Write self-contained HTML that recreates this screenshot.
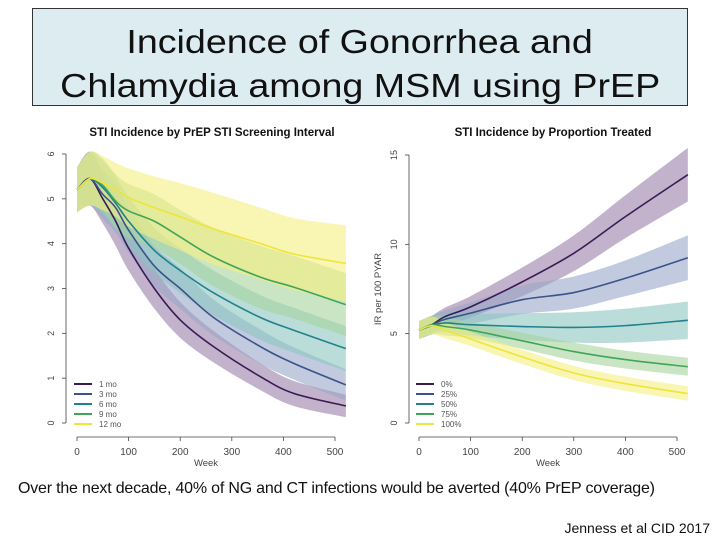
<!DOCTYPE html>
<html><head><meta charset="utf-8">
<style>
body{margin:0;width:720px;height:540px;background:#fff;overflow:hidden;position:relative;font-family:"Liberation Sans",sans-serif}
#box{position:absolute;left:32px;top:8px;width:656px;height:98px;background:#dcecf0;border:1px solid #333;box-sizing:border-box}
#title{position:absolute;left:0;top:20px;width:720px;text-align:center;font-size:33px;line-height:44px;color:#111}
#title span{display:inline-block;transform:scaleX(1.14);white-space:nowrap}
#cap{position:absolute;left:18px;top:480px;font-size:16px;color:#111;white-space:nowrap;letter-spacing:-0.2px}
#credit{position:absolute;right:10px;top:520px;font-size:14px;color:#111}
svg{position:absolute;left:0;top:0}
</style></head><body>
<div id="box"></div>
<div id="title"><span>Incidence of Gonorrhea and</span><br><span>Chlamydia among MSM using PrEP</span></div>
<svg id="chart" width="720" height="540"></svg>
<div id="cap">Over the next decade, 40% of NG and CT infections would be averted (40% PrEP coverage)</div>
<div id="credit">Jenness et al CID 2017</div>
<script>
const leftWeeks=[0,25,50,75,100,150,200,265,356,420,521];
const leftNames=["1 mo","3 mo","6 mo","9 mo","12 mo"];
const left1=[5.2,5.45,5.0,4.5,3.9,3.0,2.3,1.7,1.03,0.66,0.38];
const left3=[5.2,5.45,5.1,4.8,4.3,3.5,3.0,2.35,1.7,1.33,0.85];
const left6=[5.2,5.45,5.25,4.9,4.5,3.85,3.4,2.9,2.35,2.07,1.66];
const left9=[5.2,5.45,5.3,4.95,4.73,4.5,4.15,3.7,3.25,3.03,2.64];
const left12=[5.2,5.45,5.35,5.2,5.03,4.8,4.6,4.33,4.0,3.77,3.56];
const leftSpread1=[0.5,0.6,0.55,0.55,0.5,0.45,0.4,0.35,0.3,0.28,0.25];
const leftSpread3=[0.5,0.6,0.55,0.55,0.5,0.45,0.45,0.4,0.38,0.36,0.35];
const leftSpread6=[0.5,0.6,0.6,0.6,0.55,0.5,0.5,0.5,0.5,0.5,0.5];
const leftSpread9=[0.5,0.6,0.6,0.6,0.6,0.6,0.6,0.65,0.7,0.7,0.7];
const leftSpread12=[0.5,0.6,0.6,0.6,0.65,0.7,0.75,0.8,0.8,0.8,0.85];
const leftTicksY=[0,1,2,3,4,5,6];
const rightWeeks=[0,25,50,100,200,300,400,521];
const rightNames=["0%","25%","50%","75%","100%"];
const right0=[5.2,5.5,5.95,6.5,7.9,9.5,11.55,13.9];
const right25=[5.2,5.5,5.8,6.15,6.9,7.3,8.1,9.25];
const right50=[5.2,5.45,5.6,5.5,5.4,5.35,5.45,5.75];
const right75=[5.2,5.5,5.4,5.2,4.6,4.0,3.55,3.15];
const right100=[5.2,5.45,5.2,4.7,3.7,2.8,2.2,1.65];
const rightSpread0=[0.5,0.5,0.5,0.6,0.8,1.0,1.2,1.5];
const rightSpread25=[0.5,0.5,0.5,0.6,0.8,0.9,1.0,1.25];
const rightSpread50=[0.5,0.5,0.5,0.6,0.75,0.85,0.95,1.05];
const rightSpread75=[0.5,0.5,0.5,0.45,0.45,0.5,0.5,0.5];
const rightSpread100=[0.5,0.5,0.45,0.4,0.4,0.4,0.4,0.4];
const rightTicksY=[0,5,10,15];
const ticksX=[0,100,200,300,400,500];

const lineCols=["#3a1a55","#3b528b","#21818c","#3fa55a","#eee53a"];
const bandCols=["#9a7fa8","#98a6c8","#8cc6c2","#a6d49c","#f5ee80"];
const NS="http://www.w3.org/2000/svg";
const svg=document.getElementById('chart');
function mk(t,a,p){const e=document.createElementNS(NS,t);for(const k in a)e.setAttribute(k,a[k]);(p||svg).appendChild(e);return e;}
function smooth(pts,move){
  let d=(move?'M':'L')+pts[0][0]+','+pts[0][1];
  for(let i=0;i<pts.length-1;i++){
    const p0=pts[Math.max(0,i-1)],p1=pts[i],p2=pts[i+1],p3=pts[Math.min(pts.length-1,i+2)];
    const c1x=p1[0]+(p2[0]-p0[0])/6,c1y=p1[1]+(p2[1]-p0[1])/6;
    const c2x=p2[0]-(p3[0]-p1[0])/6,c2y=p2[1]-(p3[1]-p1[1])/6;
    d+='C'+c1x+','+c1y+' '+c2x+','+c2y+' '+p2[0]+','+p2[1];
  }
  return d;
}

function panel(cfg){
  const xs=w=>cfg.x0+(w/500)*(cfg.x500-cfg.x0);
  const ys=v=>cfg.yBot-(v/cfg.yMax)*(cfg.yBot-cfg.yTop);
  const g=mk('g',{});
  
  
  cfg.series.forEach((s,i)=>{
    const up=s.map((v,j)=>[xs(cfg.weeks[j]),ys(v+cfg.spreads[i][j])]);
    const lo=s.map((v,j)=>[xs(cfg.weeks[j]),ys(Math.max(0,v-cfg.spreads[i][j]))]).reverse();
    const p=mk('path',{d:smooth(up,true)+smooth(lo,false)+'Z',fill:bandCols[i],'fill-opacity':0.6,stroke:'none'},g);
    
    
  });
  cfg.series.forEach((s,i)=>{
    const pts=s.map((v,j)=>[xs(cfg.weeks[j]),ys(v)]);
    const l=mk('path',{d:smooth(pts,true),fill:'none',stroke:lineCols[i],'stroke-width':1.6},g);
    
    
  });
  mk('line',{x1:cfg.ax,x2:cfg.ax,y1:ys(0),y2:ys(cfg.yMax),stroke:'#444','stroke-width':0.8},g);
  cfg.ticksY.forEach(t=>{
    mk('line',{x1:cfg.ax-4,x2:cfg.ax,y1:ys(t),y2:ys(t),stroke:'#444','stroke-width':0.8},g);
    const tx=mk('text',{x:cfg.ax-12,y:ys(t),'font-size':9,fill:'#444','text-anchor':'middle',transform:`rotate(-90 ${cfg.ax-12} ${ys(t)})`},g);
    tx.textContent=t;
  });
  const axY=437;
  mk('line',{x1:xs(0),x2:xs(500),y1:axY,y2:axY,stroke:'#444','stroke-width':0.8},g);
  ticksX.forEach(t=>{
    mk('line',{x1:xs(t),x2:xs(t),y1:axY,y2:axY+4,stroke:'#444','stroke-width':0.8},g);
    const tx=mk('text',{x:xs(t),y:axY+18,'font-size':10,fill:'#444','text-anchor':'middle'},g);
    tx.textContent=t;
  });
  const wl=mk('text',{x:(xs(0)+xs(500))/2,y:axY+29,'font-size':9.5,fill:'#444','text-anchor':'middle'},g);
  wl.textContent='Week';
  if(cfg.ylabel){
    const yl=mk('text',{x:cfg.ax-28,y:(ys(0)+ys(cfg.yMax))/2,'font-size':9.5,fill:'#444','text-anchor':'middle',transform:`rotate(-90 ${cfg.ax-28} ${(ys(0)+ys(cfg.yMax))/2})`},g);
    yl.textContent='IR per 100 PYAR';
  }
  const tt=mk('text',{x:cfg.titleX,y:136,'font-size':11.5,'font-weight':'bold',fill:'#111','text-anchor':'middle'},g);
  tt.textContent=cfg.title;
  cfg.names.forEach((n,i)=>{
    const y=384+i*10;
    mk('line',{x1:cfg.legX,x2:cfg.legX+18,y1:y,y2:y,stroke:lineCols[i],'stroke-width':2},g);
    const lt=mk('text',{x:cfg.legX+25,y:y+3,'font-size':8,fill:'#555'},g);
    lt.textContent=n;
  });
}
panel({name:'screening-interval-chart',title:'STI Incidence by PrEP STI Screening Interval',titleX:212,x0:77,x500:335,yTop:154,yBot:423,yMax:6,ax:66,weeks:leftWeeks,names:leftNames,ylabel:false,
  series:[left1,left3,left6,left9,left12],spreads:[leftSpread1,leftSpread3,leftSpread6,leftSpread9,leftSpread12],ticksY:leftTicksY,legX:74});
panel({name:'proportion-treated-chart',title:'STI Incidence by Proportion Treated',titleX:553,x0:419,x500:677,yTop:155,yBot:423,yMax:15,ax:409,weeks:rightWeeks,names:rightNames,ylabel:true,
  series:[right0,right25,right50,right75,right100],spreads:[rightSpread0,rightSpread25,rightSpread50,rightSpread75,rightSpread100],ticksY:rightTicksY,legX:416});
</script>
</body></html>
